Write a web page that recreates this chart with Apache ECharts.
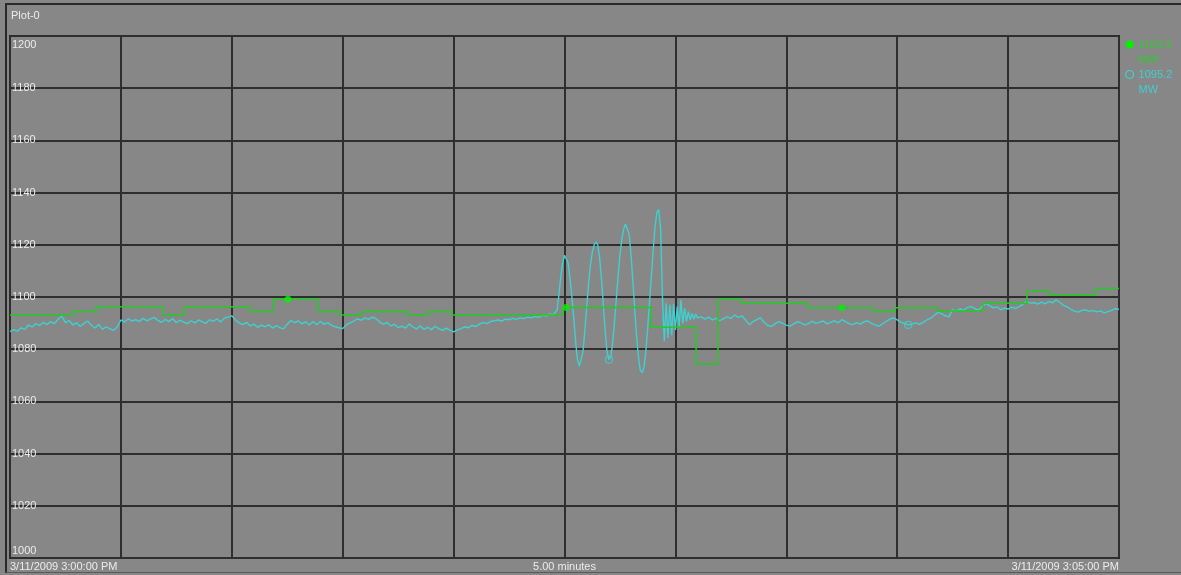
<!DOCTYPE html>
<html>
<head>
<meta charset="utf-8">
<script src="https://cdn.jsdelivr.net/npm/echarts@6/dist/echarts.min.js"></script>
<style>
  html, body { margin: 0; padding: 0; background: #878787; }
  #wrap { position: relative; width: 1181px; height: 575px; background: #878787; }
  #chart { position: absolute; left: 0; top: 0; width: 1181px; height: 575px; }
  #frame { position: absolute; left: 5px; top: 3px; width: 1176px; height: 570px;
           border-top: 2px solid #2a2a2a; border-left: 2px solid #2a2a2a; border-bottom: 1px solid #5a5a5a;
           box-sizing: border-box; pointer-events: none; }
</style>
</head>
<body>
<div id="wrap"><div id="chart"></div><div id="frame"></div></div>
<script>
// ---- axis / tick text ----
const plotTitle = 'Plot-0';
const xTickLabels = ['3/11/2009 3:00:00 PM', '3/11/2009 3:05:00 PM'];
const xAxisName = '5.00 minutes';
const unit = 'MW';

// ---- cyan trace (seconds from 3:00:00) ----
// 0 .. 147 s, one value per second
const cyanPre = [
  1086.7, 1087.5, 1086.9, 1088.2, 1087.6, 1089.3, 1088.5, 1089.8, 1089.1, 1090.3,
  1089.4, 1090.6, 1089.8, 1091.5, 1092.7, 1090.2, 1091.0, 1089.3, 1090.1, 1088.7,
  1089.9, 1090.8, 1089.2, 1088.1, 1089.5, 1087.6, 1088.6, 1087.9, 1087.2, 1088.5,
  1091.2, 1090.4, 1091.6, 1090.8, 1091.3, 1090.6, 1091.8, 1090.9, 1091.5, 1092.2,
  1091.0, 1090.3, 1091.4, 1090.6, 1091.7, 1090.2, 1091.1, 1090.4, 1089.8, 1090.9,
  1090.1, 1091.2, 1090.5, 1089.9, 1091.3, 1090.7, 1091.6, 1090.4, 1091.9, 1092.3,
  1092.8, 1091.2, 1090.1, 1089.4, 1090.3, 1088.9, 1089.6, 1088.4, 1089.2, 1088.6,
  1089.4, 1088.1, 1089.0, 1088.3, 1087.8, 1089.6, 1091.0, 1090.2, 1090.8, 1089.7,
  1090.5, 1089.3, 1090.6, 1089.4, 1090.7, 1089.5, 1090.2, 1089.1, 1088.6, 1088.2,
  1087.9, 1089.3, 1090.1, 1090.8, 1091.6, 1091.1, 1092.0, 1091.4, 1092.3, 1091.7,
  1090.5, 1089.6, 1090.2, 1088.9, 1089.5, 1088.3, 1088.8, 1088.1, 1089.7, 1088.5,
  1087.8, 1088.9, 1087.6, 1088.4, 1087.5, 1088.8, 1087.9, 1087.2, 1088.1, 1087.3,
  1086.6, 1087.4, 1087.9, 1088.6, 1088.2, 1089.1, 1088.7, 1089.6, 1090.3, 1089.8,
  1090.6, 1090.9, 1091.2, 1090.8, 1091.5, 1091.3, 1091.8, 1091.4, 1092.0, 1091.7,
  1092.3, 1092.0, 1092.6, 1092.2, 1093.0, 1092.7, 1093.5, 1093.2
];
const cyanPreStart = 0, cyanPreStep = 1;

// 148 .. 186.5 s, every half second (power swing)
const cyanSwing = [
  1095, 1101, 1108, 1113, 1116, 1116.5, 1113, 1107, 1100, 1092,
  1083, 1076, 1073.5, 1074, 1079, 1087, 1096, 1105, 1112, 1117,
  1120, 1121, 1120, 1115, 1107, 1097, 1087, 1079, 1076, 1077,
  1082, 1090, 1099, 1108, 1116, 1122, 1126, 1128, 1127.5, 1124,
  1116, 1106, 1095, 1085, 1077, 1072, 1071, 1073, 1079, 1088,
  1098, 1108, 1118, 1127, 1132.5, 1133.5, 1126, 1100, 1083, 1097.6,
  1084.3, 1097, 1085.4, 1097.4, 1087.4, 1096.3, 1088.6, 1098.9, 1089.9, 1095.7,
  1090.6, 1094.4, 1091.2, 1093.7, 1091.5, 1093.5, 1092, 1092.5
];
const cyanSwingStart = 148, cyanSwingStep = 0.5;

// 187 .. 300 s, one value per second
const cyanPost = [
  1092.4, 1091.5, 1092.3, 1091.2, 1091.8, 1090.9, 1091.7, 1092.4, 1091.8, 1093.1,
  1092.2, 1092.8, 1091.1, 1089.4, 1090.6, 1091.3, 1092.0, 1090.3, 1089.1, 1088.7,
  1089.8, 1090.6, 1089.9, 1089.2, 1088.8, 1089.7, 1090.5, 1090.1, 1089.3, 1089.8,
  1090.7, 1089.9, 1090.4, 1090.8, 1089.7, 1090.3, 1090.9, 1090.1, 1091.3, 1090.6,
  1089.8, 1089.4, 1090.2, 1089.6, 1090.5, 1090.8, 1089.9, 1089.3, 1088.8, 1089.7,
  1090.6, 1091.5, 1092.0, 1091.2, 1090.4, 1089.8, 1089.3, 1089.6, 1090.1, 1089.5,
  1090.3, 1091.2, 1091.8, 1092.9, 1094.1, 1093.6, 1092.8, 1092.4, 1095.2, 1094.6,
  1095.5, 1094.9, 1096.0, 1096.3, 1095.6, 1095.0, 1096.4, 1097.5, 1096.7, 1095.8,
  1096.2, 1095.1, 1095.8, 1095.4, 1096.1, 1095.6, 1096.3, 1097.2, 1098.4, 1097.6,
  1097.9, 1097.3, 1098.0, 1097.4, 1098.3, 1097.8, 1098.9, 1097.9, 1096.8, 1096.2,
  1095.3, 1094.6, 1094.2, 1094.9, 1095.1, 1094.5, 1094.8, 1094.3, 1094.7, 1093.9,
  1094.4, 1094.9, 1095.6, 1095.2
];
const cyanPostStart = 187, cyanPostStep = 1;

// cyan trace markers
const cyanMarkT = [162.0, 243.0];
const cyanMarkV = [1076.0, 1089.3];

// ---- green stepped trace ----
const greenT = [0, 17.0, 23.3, 41.4, 47.1, 64.9, 71.1, 83.3, 89.3, 95.2, 107.4, 113.1, 119.6,
  149.6, 173.4, 185.6, 191.5, 197.7, 215.6, 233.4, 239.4, 251.0, 263.2, 275.1, 281.3, 293.5, 300];
const greenV = [1093.1, 1094.4, 1096.3, 1093.1, 1096.3, 1094.4, 1099.1, 1094.4, 1093.1, 1094.4, 1093.1, 1094.4, 1093.1,
  1096.0, 1088.4, 1074.3, 1099.1, 1097.6, 1095.9, 1094.4, 1095.9, 1094.6, 1097.6, 1102.3, 1100.8, 1103.3, 1103.3];
const greenMarkT = [75.2, 150.4, 225.0];
const greenMarkV = [1099.1, 1096.0, 1095.9];

// ---- build ----
function seg(vals, start, step) { return vals.map((v, i) => [start + i * step, v]); }
const cyanData = [].concat(
  seg(cyanPre, cyanPreStart, cyanPreStep),
  seg(cyanSwing, cyanSwingStart, cyanSwingStep),
  seg(cyanPost, cyanPostStart, cyanPostStep)
);
const greenData = greenT.map((t, i) => [t, greenV[i]]);
const greenName = greenV[greenV.length - 1].toFixed(1) + '\n' + unit;
const cyanName = cyanPost[cyanPost.length - 1].toFixed(1) + '\n' + unit;

const BG = '#878787';
const GREEN = '#22cc22';
const GREEN_DOT = '#00f000';
const CYAN = '#3fd0d0';
const FONT = '"Liberation Sans", Arial, sans-serif';
const TXT = '#ececec';

const chart = echarts.init(document.getElementById('chart'), null, { renderer: 'canvas' });
chart.setOption({
  animation: false,
  backgroundColor: BG,
  textStyle: { fontFamily: FONT },
  title: {
    text: plotTitle, left: 6, top: 5,
    textStyle: { color: TXT, fontSize: 11, fontWeight: 'normal', fontFamily: FONT }
  },
  legend: {
    orient: 'vertical', left: 1125, top: 22, padding: 0, itemGap: -15,
    itemWidth: 8, itemHeight: 8, selectedMode: false,
    formatter: function (name) { return '\n' + name; },
    textStyle: { fontSize: 11, lineHeight: 15, fontFamily: FONT },
    data: [
      { name: greenName, icon: 'circle', itemStyle: { color: GREEN_DOT }, textStyle: { color: '#2ecc2e' } },
      { name: cyanName, icon: 'circle', itemStyle: { color: BG, borderColor: CYAN, borderWidth: 1.2 }, textStyle: { color: CYAN } }
    ]
  },
  grid: {
    left: 10, right: 62, top: 36, bottom: 17, show: true,
    containLabel: false, outerBoundsMode: 'none',
    backgroundColor: BG, borderColor: '#1e1e1e', borderWidth: 2
  },
  xAxis: {
    type: 'value', min: 0, max: 300, interval: 30,
    name: xAxisName, nameLocation: 'middle', nameGap: 3, nameMoveOverlap: false,
    nameTextStyle: { color: TXT, fontSize: 11, fontFamily: FONT, verticalAlign: 'top' },
    axisLine: { show: false }, axisTick: { show: false },
    splitLine: { show: true, lineStyle: { color: '#2e2e2e', width: 2 } },
    axisLabel: {
      color: TXT, fontSize: 11, fontFamily: FONT, margin: 3,
      showMinLabel: true, showMaxLabel: true,
      alignMinLabel: 'left', alignMaxLabel: 'right',
      formatter: function (v) { return v === 0 ? xTickLabels[0] : (v === 300 ? xTickLabels[1] : ''); }
    }
  },
  yAxis: {
    type: 'value', min: 1000, max: 1200, interval: 20,
    axisLine: { show: false }, axisTick: { show: false },
    splitLine: { show: true, lineStyle: { color: '#2e2e2e', width: 2 } },
    axisLabel: {
      inside: true, margin: 2, color: TXT, fontSize: 11, fontFamily: FONT,
      showMinLabel: true, showMaxLabel: true,
      formatter: function (v) {
        if (v === 1200) return '{top|' + v + '}';
        if (v === 1000) return '{bot|' + v + '}';
        return '{n|' + v + '}';
      },
      rich: {
        top: { color: TXT, fontSize: 11, fontFamily: FONT, padding: [17, 0, 0, 0] },
        bot: { color: TXT, fontSize: 11, fontFamily: FONT, padding: [0, 0, 14, 0] },
        n: { color: TXT, fontSize: 11, fontFamily: FONT }
      }
    }
  },
  series: [
    {
      name: cyanName, type: 'line', data: cyanData, showSymbol: false, symbol: 'none',
      lineStyle: { color: CYAN, width: 1.4 }, itemStyle: { color: CYAN }, z: 2
    },
    {
      name: greenName, type: 'line', data: greenData, step: 'end', showSymbol: false, symbol: 'none',
      lineStyle: { color: GREEN, width: 1.5 }, itemStyle: { color: GREEN }, z: 3
    },
    {
      name: 'cyanMarks', type: 'scatter', data: cyanMarkT.map((t, i) => [t, cyanMarkV[i]]),
      symbol: 'circle', symbolSize: 7,
      itemStyle: { color: 'rgba(0,0,0,0)', borderColor: CYAN, borderWidth: 1.2 }, z: 4
    },
    {
      name: 'greenMarks', type: 'scatter', data: greenMarkT.map((t, i) => [t, greenMarkV[i]]),
      symbol: 'circle', symbolSize: 7, itemStyle: { color: GREEN_DOT }, z: 5
    }
  ]
});
</script>
</body>
</html>
